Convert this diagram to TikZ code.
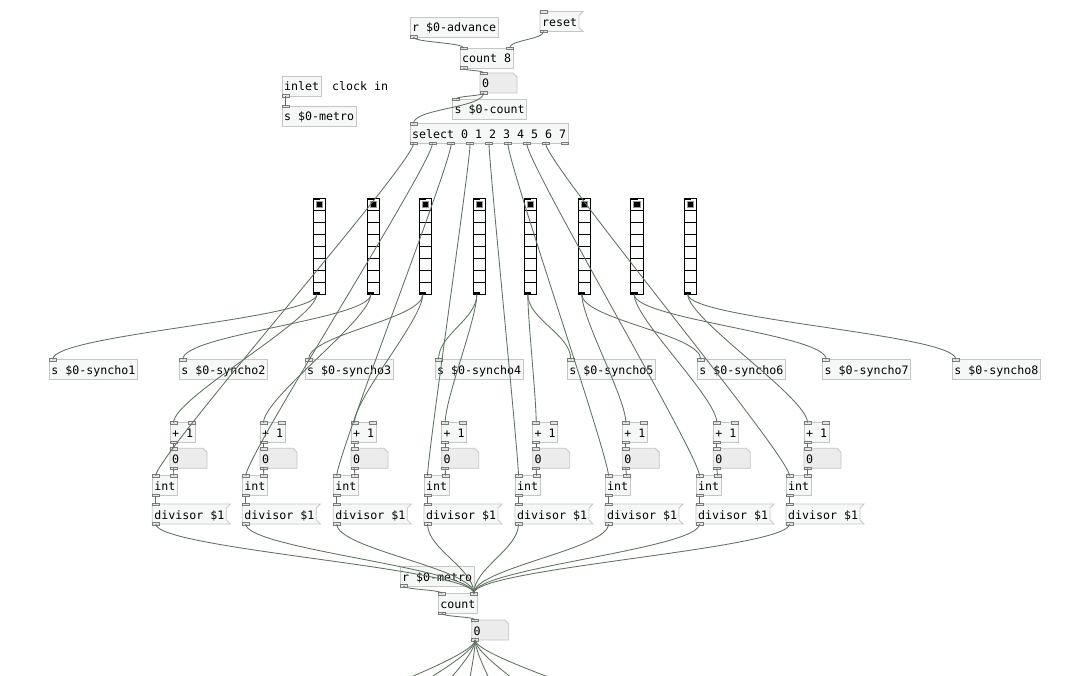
\documentclass[tikz,border=0pt]{standalone}
\usepackage{fontspec}
\newfontfamily\pdfont{DejaVu Sans Mono}

\definecolor{boxfill}{HTML}{F6F8F8}
\definecolor{boxline}{HTML}{C6C6C6}
\definecolor{atomfill}{HTML}{ECECEC}
\definecolor{cord}{HTML}{5E725F}
\definecolor{ioletline}{HTML}{7C7C7C}
\definecolor{ioletfill}{HTML}{E4E4E4}
\definecolor{radiofill}{HTML}{FCFCFC}

\pgfdeclarelayer{shapes}
\pgfsetlayers{shapes,main}

\tikzset{
  pdtext/.style={font=\pdfont\fontsize{11.63pt}{14pt}\selectfont, text=black,
    anchor=north west, inner xsep=2pt, inner ysep=0pt, outer sep=0pt,
    minimum height=20pt, text height=10.5pt, text depth=0.5pt},
  obj/.style={pdtext, draw=boxline, fill=boxfill, line width=0.8pt},
  boxtext/.style={pdtext},
  atomtext/.style={pdtext, text width=33pt, align=left},
  cmt/.style={pdtext, inner xsep=0pt},
  msgshape/.style={draw=boxline, fill=boxfill, line width=0.8pt, line join=miter},
  atomshape/.style={draw=boxline, fill=atomfill, line width=0.8pt},
  iolet/.style={draw=ioletline, fill=ioletfill, line width=0.6pt},
  vrad/.style={anchor=north west, draw=black, fill=radiofill, line width=1.2pt,
    minimum width=12.5pt, minimum height=96pt, inner sep=0pt, outer sep=0pt},
  cellline/.style={draw=black, line width=0.9pt},
  radiodot/.style={fill=black, draw=black!40, line width=1pt},
  wire/.style={draw=cord, line width=0.85pt},
}

% object box, message box and number box
\newcommand\obj[4]{\node[obj] (#1) at (#2,#3) {#4};}
\newcommand\msg[4]{\node[boxtext] (#1) at (#2,#3) {#4};
  \begin{pgfonlayer}{shapes}
    \draw[msgshape] (#1.north west) -- ([xshift=4pt]#1.north east)
      -- ([yshift=-4pt]#1.north east) -- ([yshift=4pt]#1.south east)
      -- ([xshift=4pt]#1.south east) -- (#1.south west) -- cycle;
  \end{pgfonlayer}}
\newcommand\atom[3]{\node[atomtext] (#1) at (#2,#3) {0};
  \begin{pgfonlayer}{shapes}
    \draw[atomshape] (#1.north west) -- ([xshift=-4pt]#1.north east)
      -- ([yshift=-4pt]#1.north east) -- (#1.south east) -- (#1.south west) -- cycle;
  \end{pgfonlayer}}

% inlets and outlets, each with a named attachment point
\newcommand\inl[1]{\draw[iolet] ([yshift=1pt]#1.north west) rectangle ++(7,2.5);
  \coordinate (#1-in) at ([xshift=3.5pt]#1.north west);}
\newcommand\inr[1]{\draw[iolet] ([xshift=-7pt,yshift=1pt]#1.north east) rectangle ++(7,2.5);
  \coordinate (#1-inr) at ([xshift=-3.5pt]#1.north east);}
\newcommand\outl[1]{\draw[iolet] ([yshift=1.5pt]#1.south west) rectangle ++(7,2.5);
  \coordinate (#1-out) at ([xshift=3.5pt]#1.south west);}

% vertical radio with eight cells, first cell selected
\newcommand\vradio[3]{\node[vrad] (#1) at (#2,#3) {};
  \foreach \cc in {1,...,7}
    \draw[cellline] ([yshift=-\cc*12pt]#1.north west) -- ([yshift=-\cc*12pt]#1.north east);
  \draw[radiodot] ([xshift=3pt,yshift=-2.75pt]#1.north west) rectangle ++(6.5,6.5);
  \fill[black] (#1.north west) rectangle ++(7,2);
  \fill[black] ([yshift=2pt]#1.south west) rectangle ++(7,2);
  \coordinate (#1-out) at ([xshift=3.5pt]#1.south west);}

% patch cord: vertical tangents at both ends
\newcommand\wire[3]{\draw[wire] (#2) .. controls +(0,#1) and +(0,-#1) .. (#3);}

\begin{document}
\begin{tikzpicture}[x=1pt,y=-1pt]
\useasboundingbox (0,0) rectangle (1091,676);
\begin{pgfonlayer}{shapes}
  \fill[white] (0,0) rectangle (1091,676);
\end{pgfonlayer}

% step counter
\obj{radv}{410}{17}{r \$0-advance} \outl{radv}
\msg{reset}{540}{11.5}{reset} \inl{reset} \outl{reset}
\obj{cnt8}{460}{48}{count 8} \inl{cnt8} \inr{cnt8} \outl{cnt8}
\atom{num1}{480}{73} \inl{num1} \outl{num1}
\obj{scount}{452.5}{99}{s \$0-count} \inl{scount}

% clock input
\obj{inl}{282}{76}{inlet} \outl{inl}
\node[cmt] (cmt) at (332,76) {clock in};
\obj{smetro}{282}{106}{s \$0-metro} \inl{smetro}

% step selector
\obj{sel}{410}{123.5}{select 0 1 2 3 4 5 6 7} \inl{sel}
\foreach \i in {1,...,9} {
  \draw[iolet] ([xshift=(\i-1)*18.875pt,yshift=1.5pt]sel.south west) rectangle ++(7,2.5);
  \coordinate (sel-o\i) at ([xshift=(\i-1)*18.875pt+3.5pt]sel.south west);
}

% per-step divisor radios
\foreach \i/\vx in {1/313.3,2/367.3,3/419.3,4/473.3,5/524.3,6/578.3,7/630.7,8/684.3}
  {\vradio{v\i}{\vx}{198.3}}

% sends and divisor chains
\foreach \i/\sx/\px/\ix in {1/49.3/170/152.3, 2/179.3/260/242.3, 3/305/351/333.3,
    4/435/441.7/424, 5/567.3/532.7/515, 6/697.3/622.3/605, 7/822.7/713.3/696,
    8/952.3/804/786} {
  \obj{sy\i}{\sx}{359.3}{s \$0-syncho\i} \inl{sy\i}
  \obj{pl\i}{\px}{422.7}{+ 1} \inl{pl\i} \inr{pl\i} \outl{pl\i}
  \atom{at\i}{\px}{448.3} \inl{at\i} \outl{at\i}
  \obj{int\i}{\ix}{475.7}{int} \inl{int\i} \inr{int\i} \outl{int\i}
  \msg{dv\i}{\ix}{504}{divisor \$1} \inl{dv\i} \outl{dv\i}
}

% clock divider
\obj{rmet}{400}{566}{r \$0-metro} \outl{rmet}
\obj{cntB}{438.3}{593.3}{count} \inl{cntB} \inr{cntB} \outl{cntB}
\atom{numB}{471.7}{620} \inl{numB} \outl{numB}
\foreach \j/\fx in {1/286,2/346,3/406,4/460,5/514,6/580,7/691}
  \coordinate (fan\j) at (\fx,740);

% cords
\wire{5.5}{radv-out}{cnt8-in}
\wire{8}{reset-out}{cnt8-inr}
\wire{3}{cnt8-out}{num1-in}
\wire{3}{num1-out}{scount-in}
\wire{15}{num1-out}{sel-in}
\wire{5}{inl-out}{smetro-in}
\foreach \i in {1,...,8} {
  \wire{20}{sel-o\i}{int\i-in}
  \wire{25}{v\i-out}{sy\i-in}
  \wire{25}{v\i-out}{pl\i-in}
  \wire{3}{pl\i-out}{at\i-in}
  \wire{3}{at\i-out}{int\i-inr}
  \wire{3}{int\i-out}{dv\i-in}
  \wire{25}{dv\i-out}{cntB-inr}
}
\wire{3.5}{rmet-out}{cntB-in}
\wire{3.5}{cntB-out}{numB-in}
\foreach \j in {1,...,7} {\wire{20}{numB-out}{fan\j}}
\end{tikzpicture}
\end{document}
